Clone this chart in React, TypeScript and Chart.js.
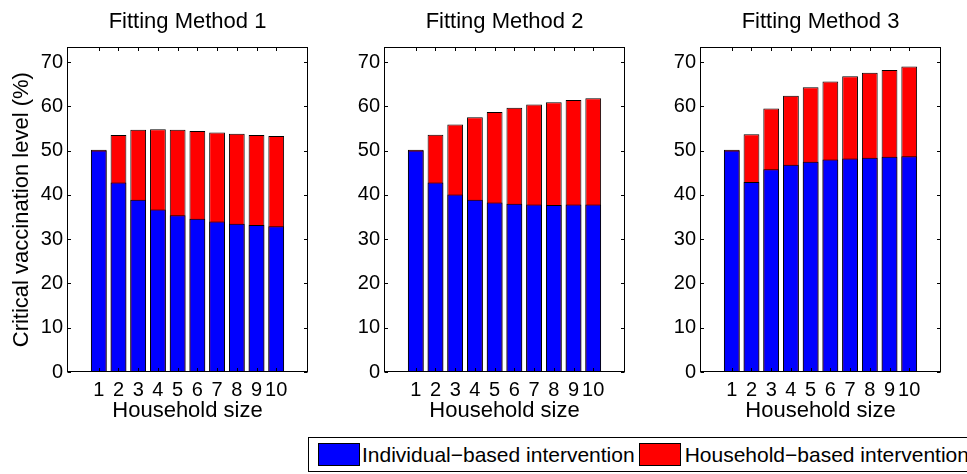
import React, { useEffect, useRef } from "react";
import { Chart, registerables } from "chart.js";

Chart.register(...registerables);

// ---------- data ----------
const householdSizes = [1, 2, 3, 4, 5, 6, 7, 8, 9, 10];
const xTickValues = [1, 2, 3, 4, 5, 6, 7, 8, 9, 10];
const yTickValues = [0, 10, 20, 30, 40, 50, 60, 70];
const panelTitles = ["Fitting Method 1", "Fitting Method 2", "Fitting Method 3"];
const seriesLabels = ["Individual\u2212based intervention", "Household\u2212based intervention"];
const yAxisLabel = "Critical vaccination level (%)";
const xAxisLabel = "Household size";

const method1Individual = [50.0, 42.8, 38.9, 36.7, 35.4, 34.6, 34.0, 33.5, 33.2, 32.9];
const method1Household = [50.2, 53.5, 54.7, 54.8, 54.7, 54.4, 54.1, 53.8, 53.5, 53.3];
const method2Individual = [50.0, 42.8, 40.1, 38.9, 38.3, 38.0, 37.8, 37.7, 37.8, 37.8];
const method2Household = [50.2, 53.6, 55.9, 57.5, 58.7, 59.7, 60.4, 60.9, 61.4, 61.8];
const method3Individual = [50.0, 42.9, 45.8, 46.8, 47.5, 48.0, 48.2, 48.4, 48.6, 48.7];
const method3Household = [50.2, 53.7, 59.5, 62.4, 64.3, 65.6, 66.8, 67.6, 68.2, 69.0];

const X_MIN = 0;
const X_MAX = 11;
const Y_MIN = 0;
const Y_MAX = 73.3;

const FONT = "'Liberation Sans', Arial, Helvetica, sans-serif";
const BLUE = "#0000ff";
const RED = "#ff0000";

Chart.defaults.font.family = FONT;
Chart.defaults.color = "#000";

const axesBoxPlugin = {
  id: "axesBox",
  afterDatasetsDraw(chart: any) {
    const { ctx, chartArea, scales } = chart;
    const x = scales.x;
    const y = scales.y;
    const L = Math.round(chartArea.left) + 0.5;
    const R = Math.round(chartArea.right) - 0.5;
    const T = Math.round(chartArea.top) + 0.5;
    const B = Math.round(chartArea.bottom) - 0.5;
    const tl = 3.5;
    ctx.save();
    ctx.strokeStyle = "#000";
    ctx.lineWidth = 1;
    ctx.strokeRect(L, T, R - L, B - T);
    ctx.beginPath();
    for (const v of xTickValues) {
      const px = Math.round(x.getPixelForValue(v)) + 0.5;
      ctx.moveTo(px, B);
      ctx.lineTo(px, B - tl);
      ctx.moveTo(px, T);
      ctx.lineTo(px, T + tl);
    }
    for (const v of yTickValues) {
      const py = Math.round(y.getPixelForValue(v)) + 0.5;
      ctx.moveTo(L, py);
      ctx.lineTo(L + tl, py);
      ctx.moveTo(R, py);
      ctx.lineTo(R - tl, py);
    }
    ctx.stroke();
    ctx.restore();
  },
};

function makeConfig(
  title: string,
  individual: number[],
  household: number[],
  showYTitle: boolean,
  yAxisWidth: number,
  padRight: number
): any {
  const barCommon = {
    borderColor: "#000",
    borderWidth: 1,
    borderSkipped: false,
    grouped: false,
    barPercentage: 0.8,
    categoryPercentage: 1,
  };
  return {
    type: "bar",
    data: {
      datasets: [
        {
          ...barCommon,
          label: seriesLabels[0],
          data: householdSizes.map((h, i) => ({ x: h, y: individual[i] })),
          backgroundColor: BLUE,
        },
        {
          ...barCommon,
          label: seriesLabels[1],
          data: householdSizes.map((h, i) => ({ x: h, y: household[i] })),
          backgroundColor: RED,
        },
      ],
    },
    options: {
      animation: false,
      responsive: false,
      devicePixelRatio: 1,
      layout: { padding: { left: 0, right: padRight, top: 0, bottom: 0 } },
      plugins: {
        legend: { display: false },
        tooltip: { enabled: false },
        title: {
          display: true,
          fullSize: false,
          text: title,
          color: "#000",
          font: { size: 22, weight: "normal", family: FONT },
          padding: { top: 9, bottom: 12 },
        },
      },
      scales: {
        x: {
          type: "linear",
          min: X_MIN,
          max: X_MAX,
          grid: { display: false, drawTicks: false },
          border: { display: false },
          afterBuildTicks: (s: any) => {
            s.ticks = xTickValues.map((v) => ({ value: v }));
          },
          afterFit: (s: any) => {
            s.height = 58;
          },
          ticks: {
            autoSkip: false,
            maxRotation: 0,
            minRotation: 0,
            padding: 6,
            color: "#000",
            font: { size: 20, family: FONT },
            callback: (v: any) => String(v),
          },
          title: {
            display: true,
            text: xAxisLabel,
            color: "#000",
            font: { size: 22, family: FONT },
            padding: { top: 0, bottom: 6 },
          },
        },
        y: {
          type: "linear",
          min: Y_MIN,
          max: Y_MAX,
          grid: { display: false, drawTicks: false },
          border: { display: false },
          afterBuildTicks: (s: any) => {
            s.ticks = yTickValues.map((v) => ({ value: v }));
          },
          afterFit: (s: any) => {
            s.width = yAxisWidth;
          },
          ticks: {
            padding: 4,
            color: "#000",
            font: { size: 20, family: FONT },
            callback: (v: any) => String(v),
          },
          title: {
            display: showYTitle,
            text: yAxisLabel,
            color: "#000",
            font: { size: 22, family: FONT },
            padding: { top: 8.5, bottom: 0 },
          },
        },
      },
    },
    plugins: [axesBoxPlugin],
  };
}

type PanelProps = {
  title: string;
  individual: number[];
  household: number[];
  showYTitle: boolean;
  yAxisWidth: number;
  padRight: number;
  left: number;
  width: number;
};

const CANVAS_H = 430;

function Panel(p: PanelProps) {
  const ref = useRef<HTMLCanvasElement | null>(null);
  useEffect(() => {
    if (!ref.current) return;
    const chart = new Chart(
      ref.current,
      makeConfig(p.title, p.individual, p.household, p.showYTitle, p.yAxisWidth, p.padRight)
    );
    return () => chart.destroy();
  }, []);
  return (
    <canvas
      ref={ref}
      width={p.width}
      height={CANVAS_H}
      style={{ position: "absolute", left: p.left, top: 0, width: p.width, height: CANVAS_H }}
    />
  );
}

function Swatch({ color }: { color: string }) {
  return (
    <span
      style={{
        display: "inline-block",
        width: 42,
        height: 23,
        boxSizing: "border-box",
        border: "1px solid #000",
        background: color,
        flex: "0 0 auto",
      }}
    />
  );
}

export default function App() {
  const plotW = 241;
  const padR = 10;
  return (
    <div
      style={{
        position: "absolute",
        left: 0,
        top: 0,
        width: 967,
        height: 474,
        overflow: "hidden",
        background: "#fff",
      }}
    >
      <Panel
        title={panelTitles[0]}
        individual={method1Individual}
        household={method1Household}
        showYTitle={true}
        yAxisWidth={67}
        padRight={padR}
        left={0}
        width={67 + plotW + padR}
      />
      <Panel
        title={panelTitles[1]}
        individual={method2Individual}
        household={method2Household}
        showYTitle={false}
        yAxisWidth={40}
        padRight={padR}
        left={384 - 40}
        width={40 + plotW + padR}
      />
      <Panel
        title={panelTitles[2]}
        individual={method3Individual}
        household={method3Household}
        showYTitle={false}
        yAxisWidth={40}
        padRight={padR}
        left={700 - 40}
        width={40 + plotW + padR}
      />
      <div
        style={{
          position: "absolute",
          left: 308,
          top: 437,
          height: 35,
          width: 720,
          boxSizing: "border-box",
          border: "1px solid #000",
          background: "#fff",
          display: "flex",
          alignItems: "center",
          whiteSpace: "nowrap",
          fontFamily: FONT,
          fontSize: 21,
          color: "#000",
          zIndex: 2,
        }}
      >
        <span style={{ marginLeft: 9, display: "flex" }}>
          <Swatch color={BLUE} />
        </span>
        <span style={{ marginLeft: 2 }}>{seriesLabels[0]}</span>
        <span style={{ marginLeft: 4, display: "flex" }}>
          <Swatch color={RED} />
        </span>
        <span style={{ marginLeft: 4 }}>{seriesLabels[1]}</span>
      </div>
    </div>
  );
}
